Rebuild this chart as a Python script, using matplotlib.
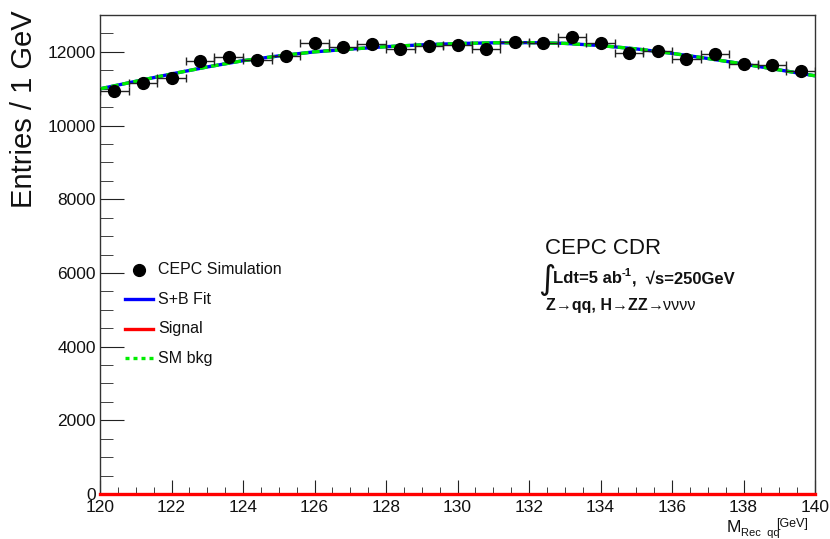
import matplotlib
matplotlib.use("Agg")
import matplotlib.pyplot as plt
from matplotlib.lines import Line2D
import numpy as np

plt.rcParams['font.family'] = ['Liberation Sans', 'DejaVu Sans']

# ---- data ----
bin_centers = [120.4, 121.2, 122.0, 122.8, 123.6, 124.4, 125.2, 126.0,
               126.8, 127.6, 128.4, 129.2, 130.0, 130.8, 131.6, 132.4,
               133.2, 134.0, 134.8, 135.6, 136.4, 137.2, 138.0, 138.8, 139.6]
bin_halfwidth = 0.4
counts = [10930, 11150, 11290, 11740, 11860, 11790, 11890, 12240,
          12130, 12220, 12070, 12160, 12190, 12070, 12260, 12250,
          12390, 12240, 11980, 12030, 11810, 11940, 11680, 11640, 11490]
count_errors = [105, 106, 106, 108, 109, 109, 109, 111,
                110, 111, 110, 110, 110, 110, 111, 111,
                111, 111, 109, 110, 109, 109, 108, 108, 107]

fit_x = [120, 121, 122, 123, 124, 125, 126, 127, 128, 129, 130,
         131, 132, 133, 134, 135, 136, 137, 138, 139, 140]
fit_sb = [10996, 11200, 11400, 11590, 11760, 11890, 12000, 12075, 12140, 12190, 12225,
          12245, 12250, 12230, 12170, 12080, 11960, 11820, 11670, 11510, 11350]
fit_bkg = fit_sb
fit_signal = [0] * len(fit_x)

x_ticks = [120, 122, 124, 126, 128, 130, 132, 134, 136, 138, 140]
y_ticks = [0, 2000, 4000, 6000, 8000, 10000, 12000]

W, H = 830, 539
fig = plt.figure(figsize=(W / 100, H / 100), dpi=100)

def fx(px):
    return px / W

def fy(py):
    return 1 - py / H

ax = fig.add_axes([fx(100), fy(494), fx(815) - fx(100), fy(15) - fy(494)])

ax.errorbar(bin_centers, counts, xerr=bin_halfwidth, yerr=count_errors, fmt='o',
            color='black', ms=8.5, elinewidth=1.0, ecolor='#222222', capsize=3,
            capthick=1.0, zorder=5)
ax.plot(fit_x, fit_sb, color='#0000ff', lw=2.4, zorder=3)
ax.plot(fit_x, fit_bkg, color='#00ee00', lw=2.4, ls=(0, (2.3, 1.1)), zorder=4)
ax.plot(fit_x, fit_signal, color='#ff0000', lw=2.4, zorder=6, clip_on=False)

ax.set_xlim(120, 140)
ax.set_ylim(0, 13000)
ax.set_xticks(x_ticks)
ax.set_yticks(y_ticks)
ax.set_xticks(np.arange(120, 140.01, 0.5), minor=True)
ax.set_yticks(np.arange(0, 13000, 500), minor=True)
ax.tick_params(axis='both', which='both', direction='in', top=False, right=False,
               color='#222222', labelsize=12.5, labelcolor='#111111')
ax.tick_params(axis='x', which='major', length=10, pad=4)
ax.tick_params(axis='x', which='minor', length=5)
ax.tick_params(axis='y', which='major', length=17, pad=3)
ax.tick_params(axis='y', which='minor', length=9)
for s in ax.spines.values():
    s.set_color('#333333')
    s.set_linewidth(1.0)

# axis titles
fig.text(fx(24), fy(10), 'Entries / 1 GeV', rotation=90, ha='center', va='top',
         fontsize=21, color='#111111')
fig.text(fx(727), fy(532), 'M', ha='left', va='baseline', fontsize=12.5, color='#111111')
fig.text(fx(741), fy(536), 'Rec  qq', ha='left', va='baseline', fontsize=8, color='#111111')
fig.text(fx(776), fy(527), '[GeV]', ha='left', va='baseline', fontsize=9, color='#111111')

# legend (manual)
lx0, lx1 = 125, 153
fig.add_artist(Line2D([fx(139)], [fy(270)], marker='o', color='black', ms=8.5, ls='none'))
fig.add_artist(Line2D([fx(lx0), fx(lx1)], [fy(299), fy(299)], color='#0000ff', lw=2.4))
fig.add_artist(Line2D([fx(lx0), fx(lx1)], [fy(329), fy(329)], color='#ff0000', lw=2.4))
fig.add_artist(Line2D([fx(lx0), fx(lx1)], [fy(358), fy(358)], color='#00ee00', lw=2.4,
                      ls=(0, (1.2, 1.2))))
for txt, py in [('CEPC Simulation', 270), ('S+B Fit', 299), ('Signal', 329), ('SM bkg', 358)]:
    fig.text(fx(158), fy(py), txt, ha='left', va='center', fontsize=11.5, color='#111111')

# annotations
fig.text(fx(545), fy(254), 'CEPC CDR', ha='left', va='baseline', fontsize=16, color='#111111')
fig.text(fx(538), fy(289), '\u222b', ha='left', va='baseline', fontsize=24, color='#111111',
         family=['DejaVu Sans'])
t2 = fig.text(fx(553), fy(283), 'Ldt=5 ab', ha='left', va='baseline',
              fontsize=12, fontweight='bold', color='#111111')
t3 = ax.annotate('-1', xy=(1, 0.55), xycoords=t2, ha='left', va='bottom',
                 fontsize=8, fontweight='bold', color='#111111', annotation_clip=False)
t4 = ax.annotate(',  \u221as=250GeV', xy=(1, 0), xycoords=(t3, t2), ha='left', va='bottom',
                 fontsize=12, fontweight='bold', color='#111111', annotation_clip=False)
t1 = fig.text(fx(546), fy(310), 'Z\u2192qq, H\u2192ZZ', ha='left', va='baseline',
              fontsize=11.5, fontweight='bold', color='#111111')
ax.annotate('\u2192\u03bd\u03bd\u03bd\u03bd', xy=(1, 0), xycoords=t1, ha='left', va='bottom',
            fontsize=11.5, color='#111111', annotation_clip=False)

fig.savefig('out.png', dpi=100)
